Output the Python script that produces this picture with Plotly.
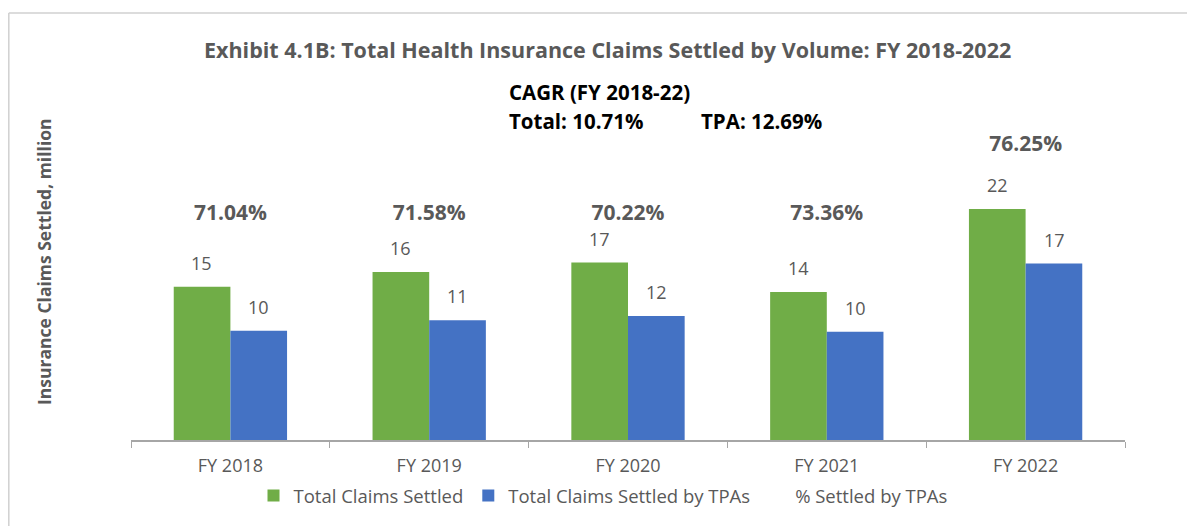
import plotly.graph_objects as go

categories = ["FY 2018", "FY 2019", "FY 2020", "FY 2021", "FY 2022"]
total_claims = [14.6, 16.0, 16.9, 14.1, 22.0]
tpa_claims = [10.4, 11.4, 11.8, 10.3, 16.8]
pct_tpa = [71.04, 71.58, 70.22, 73.36, 76.25]
pct_label_level = [21.5, 21.5, 21.5, 21.5, 28.0]  # height (in axis units) where the % labels sit

W, H = 1195, 526
OFF = 8  # page body margin of the html page
# plot area in reference pixel coordinates
X0, X1, Y0, Y1 = 131, 1125, 140, 440
L, R, T, B = X0 - OFF, W - X1 + OFF, Y0 - OFF, H - Y1 + OFF
PW, PH = X1 - X0, Y1 - Y0
YMAX = PH / 10.5

def px(x):
    return (x - X0) / PW

def py(y):
    return (Y1 - y) / PH

FONT = "Open Sans"
GREY = "#595959"
GREEN = "#70AD47"
BLUE = "#4472C4"

fig = go.Figure()
fig.add_bar(x=categories, y=total_claims, name="Total Claims Settled",
            marker=dict(color=GREEN, line=dict(width=0)))
fig.add_bar(x=categories, y=tpa_claims, name="Total Claims Settled by TPAs",
            marker=dict(color=BLUE, line=dict(width=0)))
fig.add_scatter(x=categories, y=pct_label_level, name="% Settled by TPAs",
                mode="markers+text",
                marker=dict(color="rgba(0,0,0,0)", size=1),
                text=[f"{v:.2f}%" for v in pct_tpa], textposition="middle center",
                textfont=dict(family=FONT, size=21, color=GREY, weight="bold"),
                cliponaxis=False, showlegend=True)

annotations = []
for i, c in enumerate(categories):
    for vals, shift in ((total_claims, -28.5), (tpa_claims, 28.5)):
        annotations.append(dict(x=c, y=vals[i], xref="x", yref="y", xshift=shift, yshift=24,
                                text=f"{vals[i]:.0f}", showarrow=False,
                                font=dict(family=FONT, size=18, color=GREY),
                                xanchor="center", yanchor="middle"))

annotations += [
    dict(x=px(607), y=py(50), xref="paper", yref="paper", showarrow=False,
         text="<b>Exhibit 4.1B: Total Health Insurance Claims Settled by Volume: FY 2018-2022</b>",
         font=dict(family=FONT, size=21.5, color=GREY), xanchor="center", yanchor="middle"),
    dict(x=px(507), y=py(92), xref="paper", yref="paper", showarrow=False,
         text="<b>CAGR (FY 2018-22)</b>",
         font=dict(family=FONT, size=20.5, color="#000000"), xanchor="left", yanchor="middle"),
    dict(x=px(507), y=py(121), xref="paper", yref="paper", showarrow=False,
         text="<b>Total: 10.71%</b>",
         font=dict(family=FONT, size=20.5, color="#000000"), xanchor="left", yanchor="middle"),
    dict(x=px(699), y=py(121), xref="paper", yref="paper", showarrow=False,
         text="<b>TPA: 12.69%</b>",
         font=dict(family=FONT, size=20.5, color="#000000"), xanchor="left", yanchor="middle"),
    dict(x=px(44), y=py(262), xref="paper", yref="paper", showarrow=False,
         text="<b>Insurance Claims Settled, million</b>", textangle=-90,
         font=dict(family=FONT, size=17.5, color=GREY), xanchor="center", yanchor="middle"),
]

shapes = [
    dict(type="line", xref="paper", yref="paper", x0=px(8.8), x1=px(1203), y0=py(13), y1=py(13),
         line=dict(color="#D0D0D0", width=1.5)),
    dict(type="line", xref="paper", yref="paper", x0=px(8.8), x1=px(8.8), y0=py(13), y1=py(540),
         line=dict(color="#D0D0D0", width=1.5)),
]

fig.update_layout(
    width=W, height=H,
    margin=dict(l=L, r=R, t=T, b=B, autoexpand=False),
    paper_bgcolor="white", plot_bgcolor="white",
    barmode="group", bargap=0.43, bargroupgap=0,
    font=dict(family=FONT, color=GREY),
    xaxis=dict(showline=True, linecolor="#A6A6A6", linewidth=1.5,
               ticks="outside", tickson="boundaries", ticklen=6, tickcolor="#A6A6A6",
               ticklabelstandoff=9,
               tickfont=dict(family=FONT, size=18, color=GREY), showgrid=False),
    yaxis=dict(range=[0, YMAX], visible=False, showgrid=False),
    showlegend=True,
    legend=dict(orientation="h", x=px(603), xanchor="center", y=py(496), yanchor="middle",
                font=dict(family=FONT, size=18.5, color=GREY), traceorder="normal",
                itemwidth=30, bgcolor="rgba(0,0,0,0)"),
    annotations=annotations, shapes=shapes,
)

fig.write_html("out.html")
